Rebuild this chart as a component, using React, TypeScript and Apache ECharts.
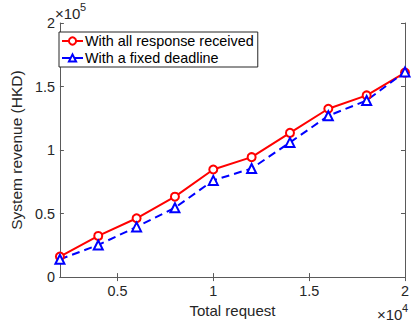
import React, { useEffect, useRef } from "react";
import * as echarts from "echarts";

const xValues = [2000, 4000, 6000, 8000, 10000, 12000, 14000, 16000, 18000, 20000];
const allReceived = [16200, 32400, 46300, 63300, 84700, 94400, 113500, 132500, 143000, 161000];
const fixedDeadline = [14000, 25300, 39500, 54600, 76100, 85500, 106000, 127000, 139000, 161500];
const xTicks = [5000, 10000, 15000, 20000];
const seriesNames = ["With all response received", "With a fixed deadline"];

const FONT = "Liberation Sans, Arial, Helvetica, sans-serif";
const TXT = "#262626";
const AX = "#5a5a5a";

export default function App() {
  const ref = useRef<HTMLDivElement>(null);
  useEffect(() => {
    if (!ref.current) return;
    const chart = echarts.init(ref.current, undefined, { renderer: "svg" });
    const fmtX = (v: number) => String(+(v / 1e4).toFixed(2));
    const fmtY = (v: number) => String(+(v / 1e5).toFixed(2));
    chart.setOption({
      animation: false,
      backgroundColor: "#fff",
      textStyle: { fontFamily: FONT },
      grid: { left: 52, right: 3, top: 23, bottom: 45 },
      legend: {
        orient: "vertical",
        left: 59,
        top: 32,
        width: 196,
        itemWidth: 21,
        itemHeight: 9,
        itemGap: 3,
        padding: [2, 4, 2, 2],
        borderColor: "#262626",
        borderWidth: 1,
        backgroundColor: "#fff",
        textStyle: { fontFamily: FONT, fontSize: 14.4, color: "#000", padding: [0, 0, 0, -3] },
        data: seriesNames,
      },
      xAxis: [
        {
          type: "value",
          min: 2000,
          max: 20000,
          name: "Total request",
          nameLocation: "middle",
          nameGap: 23,
          nameTextStyle: { fontFamily: FONT, fontSize: 15, color: TXT },
          axisLine: { show: true, lineStyle: { color: AX, width: 1 } },
          axisTick: { show: true, inside: true, length: 4, customValues: xTicks, lineStyle: { color: AX } },
          axisLabel: { customValues: xTicks, formatter: fmtX, fontFamily: FONT, fontSize: 14.4, color: TXT, margin: 7 },
          splitLine: { show: false },
        },
        {
          type: "value",
          position: "top",
          min: 2000,
          max: 20000,
          axisLine: { show: true, lineStyle: { color: AX, width: 1 } },
          axisTick: { show: true, inside: true, length: 4, customValues: xTicks, lineStyle: { color: AX } },
          axisLabel: { show: false },
          splitLine: { show: false },
        },
      ],
      yAxis: [
        {
          type: "value",
          min: 0,
          max: 200000,
          interval: 50000,
          name: "System revenue (HKD)",
          nameLocation: "middle",
          nameGap: 26,
          nameTextStyle: { fontFamily: FONT, fontSize: 15.5, color: TXT },
          axisLine: { show: true, lineStyle: { color: AX, width: 1 } },
          axisTick: { show: true, inside: true, length: 4, lineStyle: { color: AX } },
          axisLabel: { formatter: fmtY, fontFamily: FONT, fontSize: 14.4, color: TXT, margin: 5 },
          splitLine: { show: false },
        },
        {
          type: "value",
          position: "right",
          min: 0,
          max: 200000,
          interval: 50000,
          axisLine: { show: true, lineStyle: { color: AX, width: 1 } },
          axisTick: { show: true, inside: true, length: 4, lineStyle: { color: AX } },
          axisLabel: { show: false },
          splitLine: { show: false },
        },
      ],
      graphic: [
        { type: "text", left: 55, top: 6, style: { text: "×10", fontFamily: FONT, fontSize: 15, fill: TXT } },
        { type: "text", left: 80, top: 1, style: { text: "5", fontFamily: FONT, fontSize: 11, fill: TXT } },
        { type: "text", left: 377, top: 307, style: { text: "×10", fontFamily: FONT, fontSize: 15, fill: TXT } },
        { type: "text", left: 402, top: 302, style: { text: "4", fontFamily: FONT, fontSize: 11, fill: TXT } },
      ],
      series: [
        {
          name: seriesNames[0],
          type: "line",
          data: xValues.map((x, i) => [x, allReceived[i]]),
          symbol: "emptyCircle",
          symbolSize: 8,
          color: "#ff0000",
          lineStyle: { color: "#ff0000", width: 2 },
          itemStyle: { color: "#ff0000", borderColor: "#ff0000", borderWidth: 1.5 },
        },
        {
          name: seriesNames[1],
          type: "line",
          data: xValues.map((x, i) => [x, fixedDeadline[i]]),
          symbol: "emptyTriangle",
          symbolSize: 9,
          color: "#0000ff",
          lineStyle: { color: "#0000ff", width: 2, type: [8, 5] },
          itemStyle: { color: "#0000ff", borderColor: "#0000ff", borderWidth: 1.5 },
        },
      ],
    });
    return () => chart.dispose();
  }, []);
  return (
    <div
      ref={ref}
      style={{ position: "fixed", left: 0, top: 0, width: 412, height: 323, background: "#fff" }}
    />
  );
}
